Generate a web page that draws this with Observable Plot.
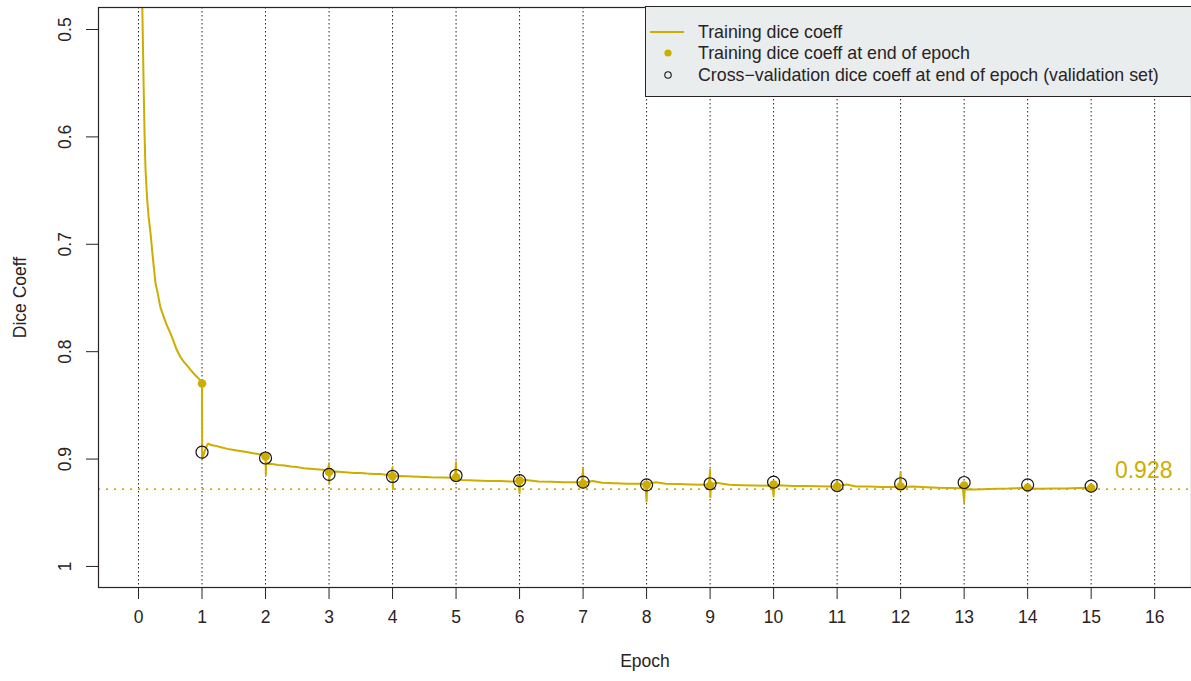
<!DOCTYPE html>
<html>
<head>
<meta charset="utf-8">
<script src="https://cdn.jsdelivr.net/npm/d3@7"></script>
<script src="https://cdn.jsdelivr.net/npm/@observablehq/plot@0.6"></script>
<style>
  html, body { margin: 0; padding: 0; background: #fff; overflow: hidden; }
  #wrap { position: relative; width: 1191px; height: 681px; font-family: "Liberation Sans", Arial, sans-serif; color: #2a2323; }
  #legend { position: absolute; left: 645px; top: 6px; width: 560px; height: 91px; background: #e9edee; border: 1px solid #2a2323; box-sizing: border-box; }
  .row { position: absolute; left: 0; height: 22px; line-height: 22px; font-size: 17.8px; white-space: nowrap; }
  .sym { position: absolute; left: 0; width: 50px; height: 22px; }
  .lab { position: absolute; left: 52px; }
</style>
</head>
<body>
<div id="wrap"></div>
<script>
// ---- data ----
const xTicks = [0,1,2,3,4,5,6,7,8,9,10,11,12,13,14,15,16];
const yTicks = [0.5, 0.6, 0.7, 0.8, 0.9, 1];
const endEpochs = [1,2,3,4,5,6,7,8,9,10,11,12,13,14,15];
const trainEndDice = [0.8296,0.8976,0.912,0.916,0.917,0.920,0.923,0.924,0.9246,0.9237,0.9255,0.9255,0.9246,0.9268,0.927];
const valDice = [0.8936,0.899,0.9143,0.9162,0.9153,0.920,0.9215,0.924,0.923,0.9215,0.9246,0.923,0.9218,0.924,0.9252];
const finalDice = 0.928;
const curveEpoch = [
  0.03,0.06,0.08,0.095,0.11,0.137,0.16,0.19,0.23,0.268,0.30,0.346,0.40,0.45,0.504,0.55,0.60,0.66,0.72,0.78,0.82,0.88,0.93,0.976,1.0,
  1.003,1.01,1.04,1.08,1.1,1.14,1.2,1.3,1.4,1.5,1.6,1.7,1.8,1.9,1.98,
  2.0,2.005,2.01,2.05,2.1,2.2,2.3,2.4,2.5,2.6,2.7,2.8,2.9,2.98,
  3.0,3.005,3.01,3.1,3.2,3.3,3.4,3.5,3.6,3.7,3.8,3.9,3.98,
  4.0,4.005,4.01,4.1,4.2,4.4,4.6,4.8,4.98,
  5.0,5.005,5.01,5.1,5.3,5.5,5.7,5.9,5.98,
  6.0,6.01,6.1,6.3,6.5,6.7,6.9,6.98,
  7.0,7.005,7.01,7.15,7.3,7.5,7.7,7.9,7.98,
  8.0,8.01,8.15,8.3,8.5,8.7,8.9,8.98,
  9.0,9.005,9.01,9.1,9.3,9.5,9.7,9.9,9.98,
  10.0,10.01,10.15,10.3,10.5,10.7,10.9,10.98,
  11.0,11.01,11.15,11.3,11.5,11.7,11.9,11.98,
  12.0,12.005,12.01,12.2,12.4,12.6,12.8,12.98,
  13.0,13.01,13.15,13.3,13.5,13.7,13.9,13.98,
  14.0,14.2,14.4,14.6,14.8,14.98,15.0
];
const curveDice = [
  0.40,0.48,0.55,0.597,0.63,0.659,0.675,0.69,0.715,0.7365,0.745,0.759,0.768,0.776,0.783,0.79,0.798,0.805,0.81,0.814,0.817,0.821,0.824,0.827,0.8296,
  0.898,0.899,0.893,0.887,0.8855,0.887,0.8875,0.889,0.8905,0.8915,0.8925,0.8935,0.8945,0.8955,0.8965,
  0.8976,0.915,0.903,0.9045,0.9045,0.9055,0.906,0.907,0.9075,0.9085,0.909,0.9095,0.910,0.911,
  0.904,0.923,0.912,0.9115,0.912,0.9125,0.913,0.913,0.9135,0.9138,0.914,0.9145,0.915,
  0.9075,0.928,0.916,0.9158,0.916,0.9165,0.917,0.9172,0.9175,
  0.903,0.920,0.919,0.9195,0.920,0.9205,0.9205,0.921,0.9205,
  0.9317,0.920,0.9195,0.921,0.9212,0.9215,0.9215,0.9218,
  0.909,0.926,0.922,0.9205,0.922,0.9225,0.923,0.923,0.9232,
  0.9395,0.923,0.9215,0.923,0.9233,0.9237,0.924,0.924,
  0.910,0.9355,0.924,0.922,0.924,0.9243,0.9246,0.9248,0.925,
  0.9348,0.9245,0.9246,0.925,0.925,0.9252,0.9255,0.9255,
  0.9205,0.925,0.9237,0.9255,0.9255,0.926,0.926,0.926,
  0.912,0.927,0.926,0.9255,0.9262,0.9268,0.927,0.9272,
  0.940,0.928,0.9283,0.928,0.9277,0.9275,0.927,0.927,
  0.9275,0.9277,0.9275,0.9273,0.927,0.9268,0.927
];

// ---- styles ----
const gold = "#CDAD00";
const ink = "#2a2323";
const curve = curveEpoch.map((e, i) => ({epoch: e, dice: curveDice[i]}));
const ends = endEpochs.map((e, i) => ({epoch: e, train: trainEndDice[i], val: valDice[i]}));

const chart = Plot.plot({
  width: 1191,
  height: 681,
  marginLeft: 98,
  marginTop: 7,
  marginBottom: 94,
  marginRight: 0,
  style: {fontSize: "17.5px", fontFamily: "'Liberation Sans', Arial, sans-serif", color: ink, background: "#fff"},
  x: {domain: [-0.63, 16.58]},
  y: {domain: [1.0196, 0.4795]},
  marks: [
    Plot.ruleX(xTicks, {x: d => d, stroke: ink, strokeDasharray: "1.5,2.5", strokeWidth: 1}),
    Plot.ruleY([finalDice], {y: d => d, stroke: gold, strokeDasharray: "2,6", strokeWidth: 1.6}),
    Plot.line(curve, {x: "epoch", y: "dice", stroke: gold, strokeWidth: 2, clip: true}),
    Plot.dot(ends, {x: "epoch", y: "train", r: 4.3, fill: gold, stroke: "none"}),
    Plot.dot(ends, {x: "epoch", y: "val", r: 6, fill: "none", stroke: "#1a1414", strokeWidth: 1.2}),
    Plot.text([finalDice], {y: d => d, frameAnchor: "right", dx: -19, dy: -19, textAnchor: "end", fill: gold, fontSize: 23, text: d => String(d)}),
    Plot.axisX(xTicks, {tickSize: 12, tickPadding: 11, label: null, stroke: ink}),
    Plot.axisY(yTicks, {tickSize: 12, tickFormat: () => "", label: null, stroke: ink}),
    Plot.text(yTicks, {y: d => d, frameAnchor: "left", dx: -33, rotate: -90, textAnchor: "middle", text: d => String(d), fill: ink}),
    Plot.text(["Dice Coeff"], {frameAnchor: "left", dx: -78, rotate: -90, textAnchor: "middle", fill: ink}),
    Plot.text(["Epoch"], {frameAnchor: "bottom", dy: 79, textAnchor: "middle", fill: ink}),
    Plot.frame({stroke: ink, strokeWidth: 1.2})
  ]
});

const wrap = document.getElementById("wrap");
wrap.appendChild(chart);

// legend (overlay inside plot area, top right)
const legend = document.createElement("div");
legend.id = "legend";
const items = [
  {label: "Training dice coeff", kind: "line"},
  {label: "Training dice coeff at end of epoch", kind: "dot"},
  {label: "Cross\u2212validation dice coeff at end of epoch (validation set)", kind: "circle"}
];
const rowTops = [14, 35, 57];
items.forEach((it, i) => {
  const row = document.createElement("div");
  row.className = "row";
  row.style.top = rowTops[i] + "px";
  let sym;
  if (it.kind === "line") sym = `<svg class="sym" width="50" height="22"><line x1="4" x2="38" y1="11" y2="11" stroke="${gold}" stroke-width="2"/></svg>`;
  else if (it.kind === "dot") sym = `<svg class="sym" width="50" height="22"><circle cx="22" cy="11" r="3.6" fill="${gold}"/></svg>`;
  else sym = `<svg class="sym" width="50" height="22"><circle cx="22" cy="11" r="3.2" fill="none" stroke="#1a1414" stroke-width="1.1"/></svg>`;
  row.innerHTML = sym + `<span class="lab">${it.label}</span>`;
  legend.appendChild(row);
});
wrap.appendChild(legend);
</script>
</body>
</html>
